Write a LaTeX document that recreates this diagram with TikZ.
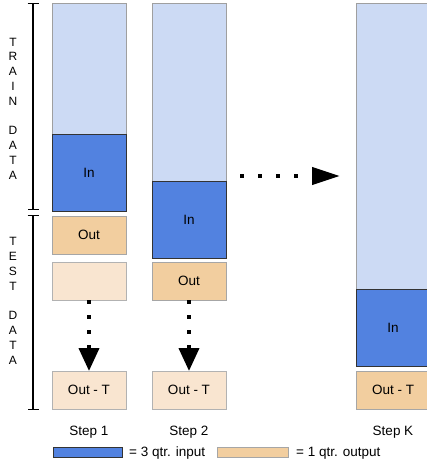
\documentclass[tikz,border=0pt]{standalone}
\usepackage{fontspec}
\setmainfont{Liberation Sans}
\usepackage{tikz}
\usetikzlibrary{arrows.meta, shadows, positioning}

\definecolor{trainblue}{HTML}{CCDAF4}
\definecolor{inblue}{HTML}{5282E0}
\definecolor{outpeach}{HTML}{F2CE9F}
\definecolor{nextpeach}{HTML}{F9E5D0}

\begin{document}
\begin{tikzpicture}[x=1pt, y=-1pt,
    every node/.style={font=\fontsize{13.5}{16}\selectfont},
    part/.style={rectangle, inner sep=0pt, outer sep=0pt, minimum width=74pt,
      drop shadow={shadow xshift=0.8pt, shadow yshift=-0.8pt, opacity=0.3, fill=black}},
    trainpart/.style={part, fill=trainblue, draw=gray!75, line width=0.6pt},
    inpart/.style={part, fill=inblue, draw=black!80, line width=0.8pt, minimum height=77pt},
    outpart/.style={part, fill=outpeach, draw=gray!70, line width=0.6pt, minimum height=38pt},
    nextpart/.style={part, fill=nextpeach, draw=gray!60, line width=0.6pt, minimum height=38pt},
    dotflow/.style={line width=4pt, dash pattern=on 4pt off 11pt},
    bracket/.style={line width=1.4pt, {Bar[width=11pt,line width=1.4pt]}-{Bar[width=11pt,line width=1.4pt]}},
    letters/.style={align=center, font=\fontsize{12}{14.8}\selectfont}]
    \useasboundingbox (0,0) rectangle (427,472);

    % brackets on the left
    \coordinate (trtop) at (33,3);
    \coordinate (trbot) at (33,210);
    \coordinate (tetop) at (33,215);
    \coordinate (tebot) at (33,410);
    \draw[bracket] (trtop) -- (trbot);
    \draw[bracket] (tetop) -- (tebot);
    \node[letters] (trainlab) at (13,108.5) {T\\R\\A\\I\\N\\[14.8pt]D\\A\\T\\A};
    \node[letters] (testlab) at (13,301) {T\\E\\S\\T\\[14.8pt]D\\A\\T\\A};

    % step 1
    \node[trainpart, minimum height=131pt] (s1train) at (89,68.5) {};
    \node[inpart] (s1in) at (89,172.5) {In};
    \node[outpart] (s1out) at (89,235) {Out};
    \node[nextpart] (s1next) at (89,281) {};
    \node[nextpart] (s1outT) at (89,390) {Out - T};
    \node (lab1) at (89,432) {Step 1};

    % step 2
    \node[trainpart, minimum height=178pt] (s2train) at (189,92) {};
    \node[inpart] (s2in) at (189,219.5) {In};
    \node[outpart] (s2out) at (189,281) {Out};
    \node[nextpart] (s2outT) at (189,390) {Out - T};
    \node (lab2) at (189,432) {Step 2};

    % step K
    \node[trainpart, minimum height=286pt] (sKtrain) at (393,146) {};
    \node[inpart] (sKin) at (393,327.5) {In};
    \node[outpart] (sKoutT) at (393,390) {Out - T};
    \node (labK) at (393,432) {Step K};

    % dotted arrows
    \draw[dotflow, -{Triangle[width=20pt,length=23pt]}] (s1next.south) -- (s1outT.north);
    \draw[dotflow, -{Triangle[width=20pt,length=23pt]}] (s2out.south) -- (s2outT.north);
    \coordinate (hstart) at (240,176);
    \coordinate (hend) at (340,176);
    \draw[line width=4pt, dash pattern=on 4pt off 14pt, -{Triangle[width=17pt,length=28pt]}] (hstart) -- (hend);

    % legend
    \node[part, fill=inblue, draw=black!80, line width=0.8pt, minimum width=69pt, minimum height=9.5pt] (legin) at (87.5,452.5) {};
    \node[anchor=west, inner sep=0pt] (legintext) at (129,453) {= 3 qtr. input};
    \node[part, fill=outpeach, draw=gray!70, line width=0.6pt, minimum width=71pt, minimum height=9.5pt] (legout) at (252.5,452.5) {};
    \node[anchor=west, inner sep=0pt] (legouttext) at (296,453) {= 1 qtr. output};
\end{tikzpicture}
\end{document}
